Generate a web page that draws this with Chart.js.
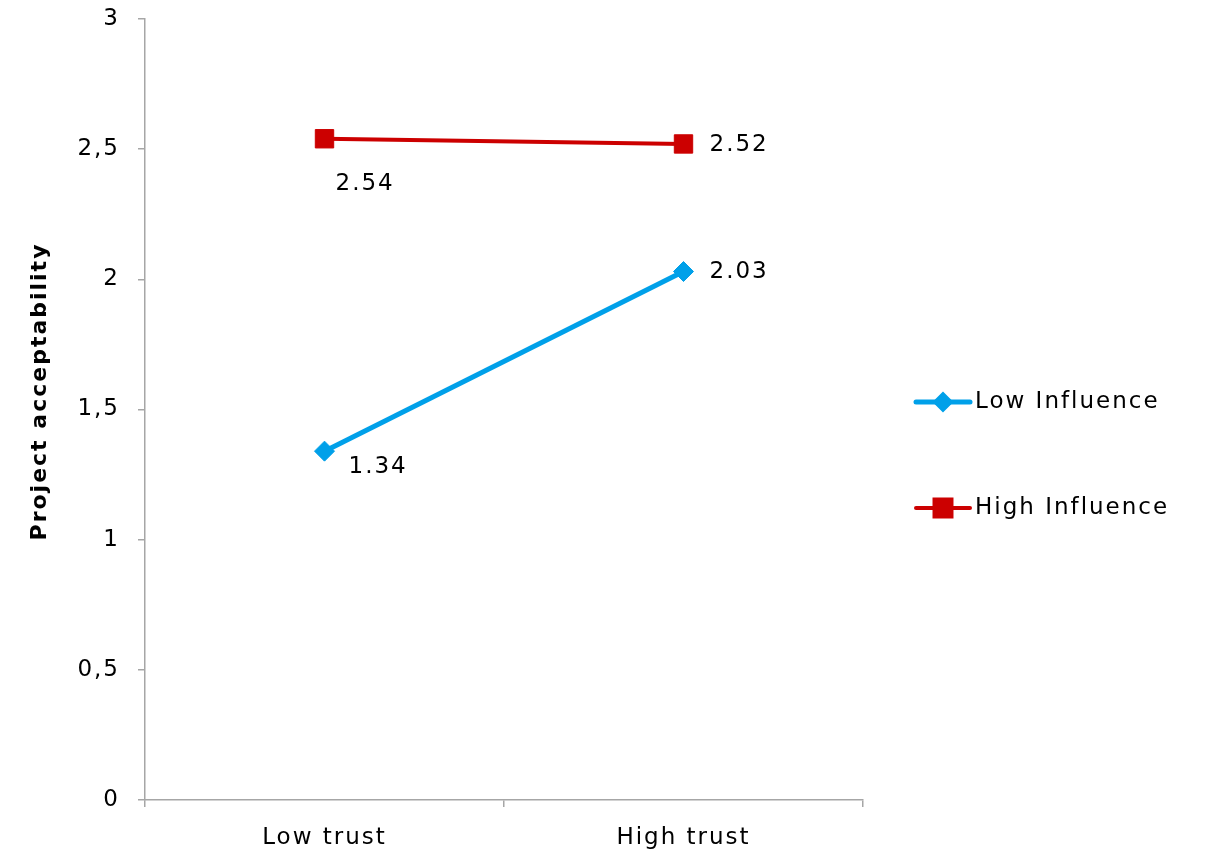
<!DOCTYPE html>
<html>
<head>
<meta charset="utf-8">
<script src="https://cdn.jsdelivr.net/npm/chart.js@4/dist/chart.umd.min.js"></script>
<style>
  html, body { margin: 0; padding: 0; background: #fff; }
  #wrap { width: 1208px; height: 856px; }
</style>
</head>
<body>
<div id="wrap"><canvas id="lineChart" width="1208" height="856"></canvas></div>
<script>
//data
var categories = ["Low trust", "High trust"];
var lowInfluence = [1.34, 2.03];
var highInfluence = [2.54, 2.52];
var seriesNames = ["Low Influence", "High Influence"];
var yTickLabels = ["0", "0,5", "1", "1,5", "2", "2,5", "3"];
var yAxisTitle = "Project acceptability";

var FONT = "'DejaVu Sans', Verdana, sans-serif";
var axisGrey = '#a6a6a6';

// value labels next to points, offset from the point (dx = text start, dy = middle)
var labelOffsets = [
  [[24, 16], [26, 1]],
  [[11, 45], [26, 1]]
];
var legendMarker = [7, 12];

// verdana-ish width: a bit of letter spacing on all text
var spacing = {
  id: 'spacing',
  beforeDraw: function(chart) { chart.ctx.letterSpacing = '2px'; }
};

var valueLabels = {
  id: 'valueLabels',
  afterDatasetsDraw: function(chart) {
    var ctx = chart.ctx;
    ctx.save();
    ctx.font = '23px ' + FONT;
    ctx.fillStyle = '#000';
    ctx.textAlign = 'left';
    ctx.textBaseline = 'middle';
    chart.data.datasets.forEach(function(ds, i) {
      chart.getDatasetMeta(i).data.forEach(function(pt, j) {
        var off = labelOffsets[i][j];
        ctx.fillText(ds.data[j].toFixed(2), pt.x + off[0], pt.y + off[1]);
      });
    });
    ctx.restore();
  }
};

// y axis title, a little above the middle like the original
var yTitle = {
  id: 'yTitle',
  afterDraw: function(chart) {
    var ctx = chart.ctx;
    var a = chart.chartArea;
    ctx.save();
    ctx.translate(40, (a.top + a.bottom) / 2 - 18);
    ctx.rotate(-Math.PI / 2);
    ctx.font = 'bold 22px ' + FONT;
    ctx.fillStyle = '#000';
    ctx.textAlign = 'center';
    ctx.textBaseline = 'middle';
    ctx.fillText(yAxisTitle, 0, 0);
    ctx.restore();
  }
};

// legend: line with marker in middle, like the office chart
var sideLegend = {
  id: 'sideLegend',
  afterDraw: function(chart) {
    var ctx = chart.ctx;
    var x0 = chart.chartArea.right + 53;
    var ys = [402, 508];
    ctx.save();
    chart.data.datasets.forEach(function(ds, i) {
      var y = ys[i];
      ctx.strokeStyle = ds.borderColor;
      ctx.lineWidth = ds.borderWidth;
      ctx.lineCap = 'round';
      ctx.beginPath();
      ctx.moveTo(x0, y);
      ctx.lineTo(x0 + 54, y);
      ctx.stroke();
      Chart.helpers.drawPoint(ctx, {
        pointStyle: ds.pointStyle,
        radius: legendMarker[i],
        borderWidth: 1
      }, x0 + 27, y);
      ctx.fillStyle = ds.pointBackgroundColor;
      ctx.fill();
      ctx.fillStyle = '#000';
      ctx.font = '23px ' + FONT;
      ctx.textAlign = 'left';
      ctx.textBaseline = 'middle';
      ctx.fillText(ds.label, x0 + 59, y);
    });
    ctx.restore();
  }
};

var ctxL = document.getElementById("lineChart").getContext('2d');
var myLineChart = new Chart(ctxL, {
  type: 'line',
  data: {
    labels: categories,
    datasets: [{
      label: seriesNames[0],
      data: lowInfluence,
      borderColor: '#00a0e9',
      backgroundColor: '#00a0e9',
      pointBackgroundColor: '#00a0e9',
      pointBorderColor: '#00a0e9',
      borderWidth: 5,
      pointStyle: 'rectRot',
      pointRadius: 10,
      pointBorderWidth: 1,
      tension: 0
    }, {
      label: seriesNames[1],
      data: highInfluence,
      borderColor: '#cc0000',
      backgroundColor: '#cc0000',
      pointBackgroundColor: '#cc0000',
      pointBorderColor: '#cc0000',
      borderWidth: 4,
      pointStyle: 'rect',
      pointRadius: 13,
      pointBorderWidth: 1,
      tension: 0
    }]
  },
  options: {
    responsive: false,
    animation: false,
    layout: { padding: { left: 0, top: 19, right: 345, bottom: 0 } },
    plugins: {
      legend: { display: false },
      tooltip: { enabled: false }
    },
    scales: {
      x: {
        offset: true,
        afterFit: function(scale) {
          scale.height = 56;
          scale.paddingLeft = 0;
          scale.paddingRight = 0;
        },
        border: { color: axisGrey, width: 1.5 },
        grid: { offset: true, drawOnChartArea: false, drawTicks: true, tickLength: 7, color: axisGrey, lineWidth: 1.5 },
        ticks: { color: '#000', font: { family: FONT, size: 23 }, padding: 17 }
      },
      y: {
        min: 0,
        max: 3,
        afterFit: function(scale) {
          scale.width = 145;
          scale.paddingTop = 0;
          scale.paddingBottom = 0;
        },
        border: { color: axisGrey, width: 1.5 },
        grid: { drawOnChartArea: false, drawTicks: true, tickLength: 7, color: axisGrey, lineWidth: 1.5 },
        ticks: {
          stepSize: 0.5,
          color: '#000',
          font: { family: FONT, size: 23 },
          padding: 18,
          callback: function(v, i) { return yTickLabels[i]; }
        }
      }
    }
  },
  plugins: [spacing, valueLabels, yTitle, sideLegend]
});
</script>
</body>
</html>
